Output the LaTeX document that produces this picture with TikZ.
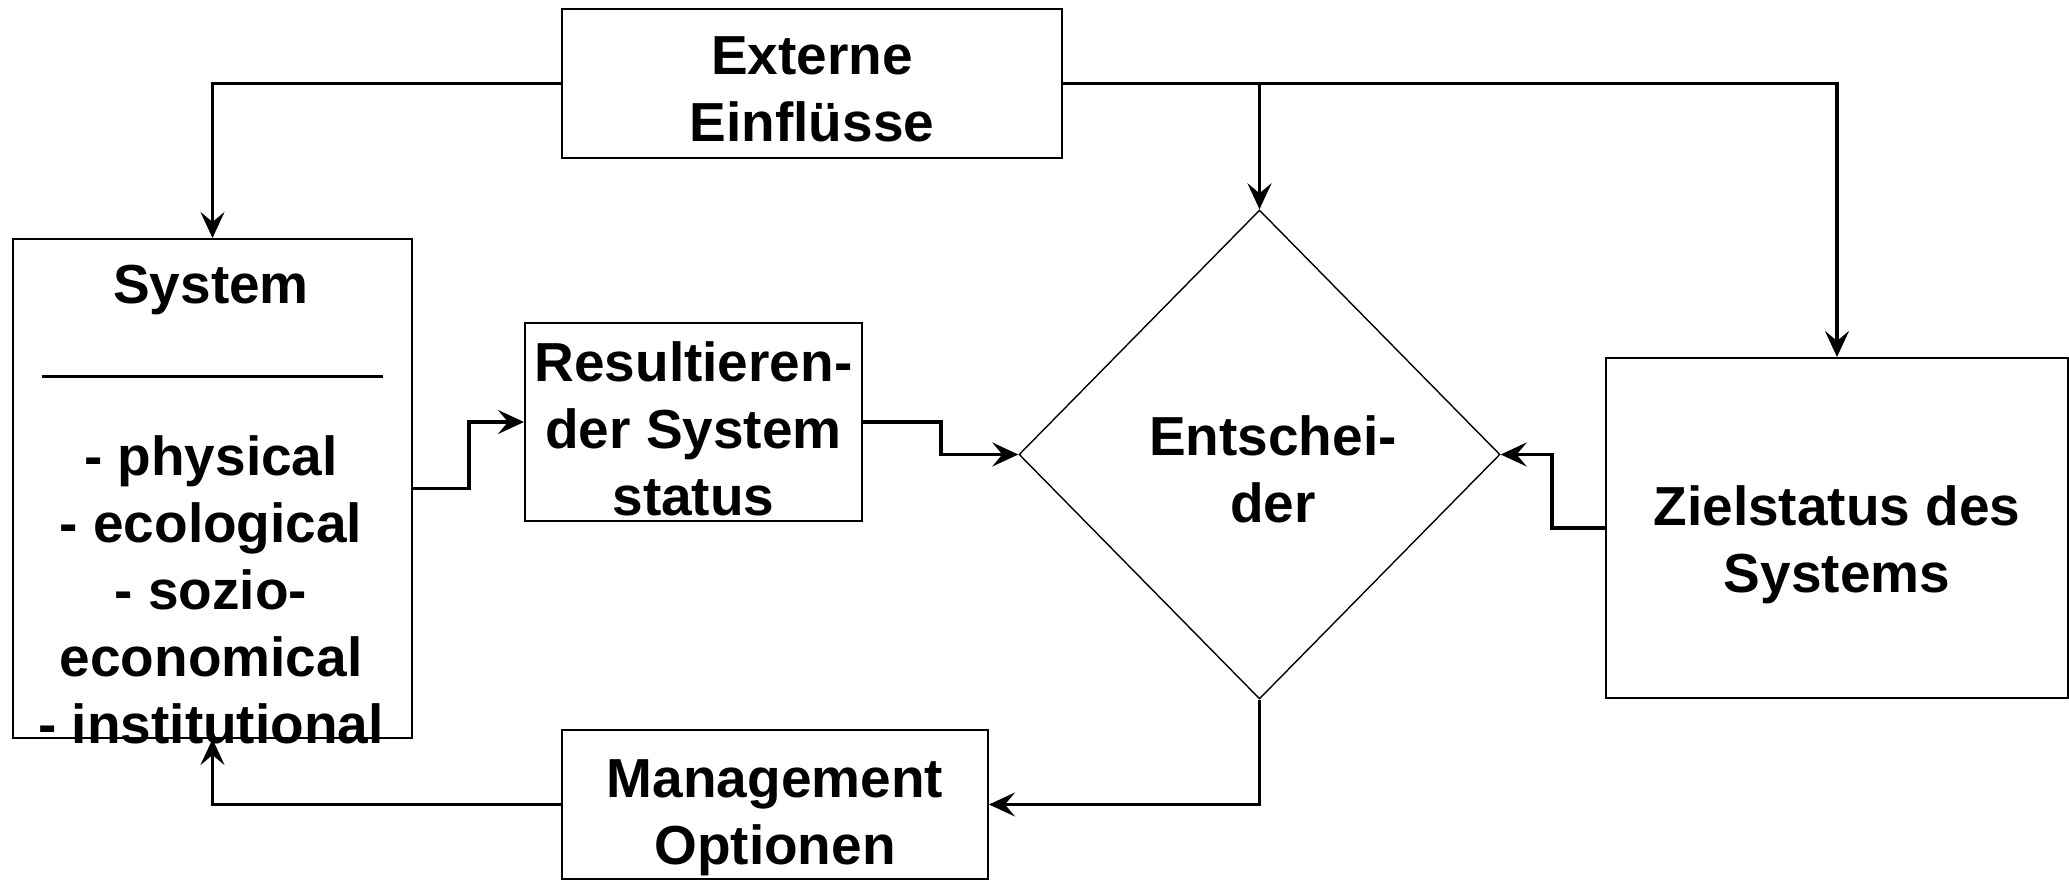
\documentclass[tikz,border=0pt]{standalone}
\usepackage{fontspec}
\setmainfont{Liberation Sans}
\usetikzlibrary{shapes.geometric,arrows.meta}

\begin{document}
\begin{tikzpicture}[x=0.5pt,y=-0.5pt,
	box/.style={shape=rectangle, draw=black, line width=1pt, inner sep=0pt},
	txt/.style={inner sep=0pt, align=center, font=\fontsize{27.5}{33.5}\selectfont\bfseries},
	conn/.style={line width=1.6pt, -{Stealth[length=13pt,width=12pt,inset=5pt]}}]
		\useasboundingbox (0,0) rectangle (2069,882);
		\node[box, minimum width=250pt, minimum height=74.5pt] (ext) at (812,83.5) {};
		\node[box, minimum width=199.5pt, minimum height=249.5pt] (sys) at (212.5,488.5) {};
		\node[box, minimum width=168.5pt, minimum height=99pt] (res) at (693.5,422) {};
		\node[shape=diamond, draw=black, line width=0.7pt, inner sep=0pt, minimum width=240.5pt, minimum height=244.5pt] (dec) at (1259.5,454.5) {};
		\node[box, minimum width=231pt, minimum height=170pt] (ziel) at (1837,528) {};
		\node[box, minimum width=213pt, minimum height=74.5pt] (mgmt) at (775,804.5) {};

		% texts
		\node[txt] (exttext) at ([yshift=-3pt]ext.center) {Externe\\Einflüsse};
		\node[txt] (systitle) at (211,290) {System};
		\node[txt] (syslist) at (211,590) {- physical\\- ecological\\- sozio-\\economical\\- institutional};
		\node[txt] (restext) at ([yshift=-3.3pt]res.center) {Resultieren-\\der System\\status};
		\node[txt] (dectext) at (1273,469) {Entschei-\\der};
		\node[txt] (zieltext) at ([yshift=-8.5pt]ziel.center) {Zielstatus des\\Systems};
		\node[txt] (mgmttext) at ([yshift=-6.5pt]mgmt.center) {Management\\Optionen};

		\draw[line width=1.5pt] (42,377) -- (383,377);

		\draw[conn] (ext.west) -| (sys.north);
		\draw[conn] (ext.east) -| (dec.north);
		\draw[conn] (ext.east) -| (ziel.north);
		\draw[conn] (sys.east) -- ++(56,0) |- (res.west);
		\draw[conn] (res.east) -- ++(78,0) |- (dec.west);
		\draw[conn] (ziel.west) -- ++(-53,0) |- (dec.east);
		\draw[conn] (dec.south) |- (mgmt.east);
		\draw[conn] (mgmt.west) -| (sys.south);
	\end{tikzpicture}
\end{document}
